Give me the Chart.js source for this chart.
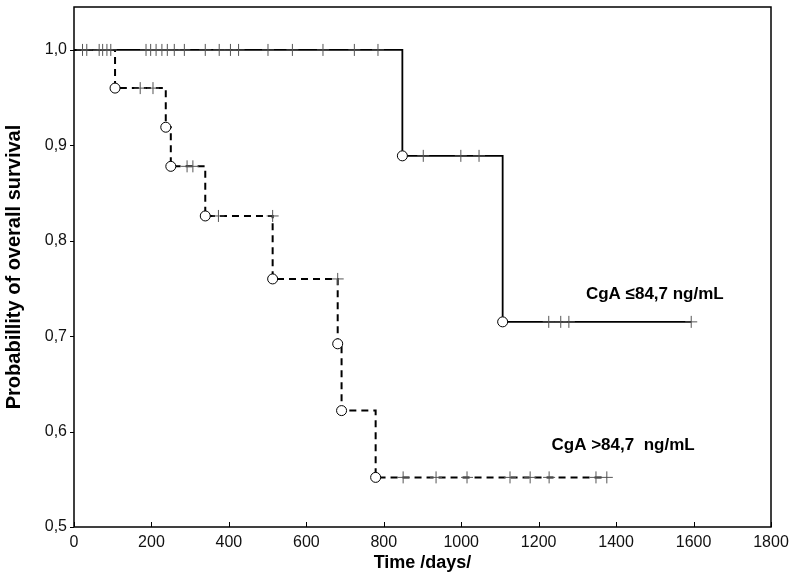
<!DOCTYPE html>
<html>
<head>
<meta charset="utf-8">
<script src="https://cdn.jsdelivr.net/npm/chart.js@4.4.1/dist/chart.umd.min.js"></script>
<style>
  html, body { margin: 0; padding: 0; background: #fff; }
  #wrap { width: 793px; height: 575px; }
</style>
</head>
<body>
<div id="wrap"><canvas id="kmChart"></canvas></div>
<script>
// CgA <= 84,7 ng/mL  (solid curve): step points, events, censored times
var lowDays = [0, 848, 1107, 1594];
var lowSurv = [1.0, 0.889, 0.715, 0.715];
var lowEventDays = [848, 1107];
var lowEventSurv = [0.889, 0.715];
var lowCensorDays = [186, 198, 212, 227, 241, 259, 285, 339, 375, 404, 425, 501, 564, 643, 724, 785,
                     902, 999, 1046, 1226, 1257, 1278, 1594];

// CgA > 84,7 ng/mL  (dashed curve)
var highDays = [0, 106, 237, 250, 339, 513, 681, 691, 779, 1376];
var highSurv = [1.0, 0.960, 0.919, 0.878, 0.826, 0.760, 0.692, 0.622, 0.552, 0.552];
var highEventDays = [106, 237, 250, 339, 513, 681, 691, 779];
var highEventSurv = [0.960, 0.919, 0.878, 0.826, 0.760, 0.692, 0.622, 0.552];
var highCensorDays = [22, 33, 65, 74, 85, 95, 171, 204, 292, 307, 373, 513, 681,
                      850, 935, 1015, 1126, 1178, 1227, 1348, 1376];

// axis ticks
var xTicks = [0, 200, 400, 600, 800, 1000, 1200, 1400, 1600, 1800];
var yTicks = [0.5, 0.6, 0.7, 0.8, 0.9, 1.0];

// curve labels (anchored in data units)
var groupNames = ["CgA \u226484,7 ng/mL", "CgA >84,7  ng/mL"];
var groupLabelDays = [1500, 1418];
var groupLabelSurv = [0.744, 0.586];

function pts(xs, ys) {
    return xs.map(function (x, i) { return { x: x, y: ys[i] }; });
}
// survival level just before time t (censored marks sit on the curve)
function survAt(days, surv, t) {
    var s = surv[0];
    for (var i = 1; i < days.length; i++) {
        if (days[i] < t) s = surv[i];
    }
    return s;
}
function censorPts(cDays, days, surv) {
    return cDays.map(function (t) { return { x: t, y: survAt(days, surv, t) }; });
}

var frameAndLabels = {
    id: 'frameAndLabels',
    afterDatasetsDraw: function (chart) {
        var ctx = chart.ctx, a = chart.chartArea;
        var xs = chart.scales.x, ys = chart.scales.y;
        ctx.save();
        ctx.strokeStyle = '#000';
        ctx.lineWidth = 1.5;
        ctx.strokeRect(a.left, a.top, a.right - a.left, a.bottom - a.top);
        ctx.lineWidth = 1;
        ctx.beginPath();
        xTicks.forEach(function (v) {
            var px = Math.round(xs.getPixelForValue(v)) + 0.5;
            ctx.moveTo(px, a.bottom);
            ctx.lineTo(px, a.bottom - 5);
        });
        yTicks.forEach(function (v) {
            var py = Math.round(ys.getPixelForValue(v)) + 0.5;
            ctx.moveTo(a.left, py);
            ctx.lineTo(a.left - 4, py);
        });
        ctx.stroke();

        ctx.fillStyle = '#000';
        ctx.font = 'bold 17px "Liberation Sans", Arial, sans-serif';
        ctx.textAlign = 'center';
        ctx.textBaseline = 'middle';
        groupNames.forEach(function (name, i) {
            ctx.fillText(name, xs.getPixelForValue(groupLabelDays[i]), ys.getPixelForValue(groupLabelSurv[i]));
        });
        ctx.restore();
    }
};

new Chart("kmChart", {
    type: "scatter",
    data: {
        datasets: [
            {   // event circles, dashed group
                data: pts(highEventDays, highEventSurv),
                pointStyle: 'circle', pointRadius: 5, pointBorderWidth: 1,
                borderColor: '#000', backgroundColor: '#fff', order: 0
            },
            {   // event circles, solid group
                data: pts(lowEventDays, lowEventSurv),
                pointStyle: 'circle', pointRadius: 5, pointBorderWidth: 1,
                borderColor: '#000', backgroundColor: '#fff', order: 0
            },
            {   // censored, dashed group
                data: censorPts(highCensorDays, highDays, highSurv),
                pointStyle: 'cross', pointRadius: 6, pointBorderWidth: 1,
                borderColor: '#555', backgroundColor: '#555', order: 1
            },
            {   // censored, solid group
                data: censorPts(lowCensorDays, lowDays, lowSurv),
                pointStyle: 'cross', pointRadius: 6, pointBorderWidth: 1,
                borderColor: '#555', backgroundColor: '#555', order: 1
            },
            {   // KM curve CgA > 84,7
                data: pts(highDays, highSurv),
                showLine: true, stepped: 'before', pointRadius: 0,
                borderColor: '#000', borderWidth: 2, borderDash: [7, 5], order: 2
            },
            {   // KM curve CgA <= 84,7
                data: pts(lowDays, lowSurv),
                showLine: true, stepped: 'before', pointRadius: 0,
                borderColor: '#000', borderWidth: 1.8, order: 2
            }
        ]
    },
    options: {
        responsive: true,
        maintainAspectRatio: false,
        animation: false,
        layout: { padding: { top: 2, right: 22, bottom: 0, left: 0 } },
        plugins: {
            legend: { display: false },
            tooltip: { enabled: false }
        },
        scales: {
            x: {
                type: 'linear', min: 0, max: 1800,
                grid: { display: false, drawTicks: false },
                border: { display: false },
                ticks: {
                    stepSize: 200, padding: 6, color: '#111', maxRotation: 0,
                    font: { family: '"Liberation Sans", Arial', size: 16 },
                    callback: function (v) { return String(v); }
                },
                title: {
                    display: true, text: 'Time /days/', color: '#000',
                    font: { family: '"Liberation Sans", Arial', size: 18, weight: 'bold' },
                    padding: { top: 0, bottom: 1 }
                },
                afterFit: function (s) { s.height = 48; s.paddingLeft = 0; s.paddingRight = 0; }
            },
            y: {
                type: 'linear', min: 0.5, max: 1.045,
                grid: { display: false, drawTicks: false },
                border: { display: false },
                ticks: {
                    stepSize: 0.1, includeBounds: false, padding: 7, color: '#111',
                    font: { family: '"Liberation Sans", Arial', size: 16 },
                    callback: function (v) { return v.toFixed(1).replace('.', ','); }
                },
                title: {
                    display: true, text: 'Probabillity of overall survival', color: '#000',
                    font: { family: '"Liberation Sans", Arial', size: 20, weight: 'bold' },
                    padding: { top: 2, bottom: 0 }
                },
                afterFit: function (s) { s.width = 74; s.paddingTop = 0; s.paddingBottom = 0; }
            }
        }
    },
    plugins: [frameAndLabels]
});
</script>
</body>
</html>
